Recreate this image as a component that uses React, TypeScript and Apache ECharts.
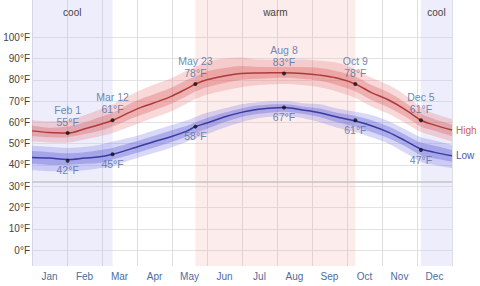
import React, { useEffect, useRef } from "react";
import * as echarts from "echarts";

// x positions are day-of-year (0..365)
const months = ["Jan", "Feb", "Mar", "Apr", "May", "Jun", "Jul", "Aug", "Sep", "Oct", "Nov", "Dec"];
const yTicks = [0, 10, 20, 30, 40, 50, 60, 70, 80, 90, 100];

const days = [0, 15, 31, 46, 59, 70, 90, 105, 120, 135, 142, 152, 167, 182, 197, 219, 235, 250, 265, 281, 295, 310, 325, 338, 350, 365];

const highLine = [56, 55.2, 55, 57, 59, 61, 66, 69, 72, 76, 78, 80, 81.8, 83, 83.2, 83.3, 83, 82.2, 80.8, 78, 74, 70.5, 65.8, 61, 58.7, 56.4];
const highP10 = [51, 50.5, 50.5, 52, 53.5, 55, 59, 62, 65, 69, 71, 73, 75, 76.5, 77.5, 78, 77.5, 76.5, 74.5, 71.5, 67.5, 64, 59.5, 55.5, 53.5, 51];
const highP25 = [53.5, 53, 53, 54.5, 56, 58, 62.5, 65.5, 68.5, 72.5, 74.5, 76.5, 78.5, 80, 80.5, 81, 80.5, 79.5, 77.5, 74.5, 70.5, 67, 62.5, 58, 56, 53.5];
const highP75 = [58.5, 57.5, 58, 60, 62.5, 64.5, 70, 73, 76, 80, 81.5, 84, 85.5, 86.5, 86, 86, 86, 85.5, 84, 81.5, 77.5, 74, 69, 64, 61.5, 59];
const highP90 = [61, 60.5, 61, 63.5, 66, 68.5, 74, 77.5, 80.5, 84.5, 86, 88.5, 90, 90.5, 89.5, 89.5, 89.5, 89, 88, 85, 81, 77.5, 72.5, 67, 64, 61.5];

const lowLine = [43.5, 43.2, 42.5, 43.2, 43.8, 45, 48.2, 50.8, 53.1, 56, 58, 59.7, 62.5, 64.7, 66.2, 67, 65.8, 64.5, 62.5, 60.6, 58.4, 55.3, 51.2, 47.5, 45.9, 44.3];
const lowP10 = [37.5, 37, 37, 37.5, 38.5, 39.5, 43, 45.5, 48, 51, 52.5, 54.5, 57.5, 60, 62, 63, 62, 60, 57.5, 55.5, 53, 50, 45.5, 41.5, 40, 38.5];
const lowP25 = [40.5, 40, 40, 40.5, 41, 42.5, 45.5, 48, 50.5, 53.5, 55, 57, 60, 62.5, 64, 65, 64, 62.5, 60, 58, 55.5, 52.5, 48.5, 44.5, 43, 41.5];
const lowP75 = [46.5, 46, 45.5, 46, 47, 48, 51, 53.5, 56, 58.5, 60, 62, 64.5, 66.5, 68, 68.5, 67.5, 66.5, 64.5, 63, 61, 58, 54, 50.5, 49, 47];
const lowP90 = [49, 48.5, 48, 48.5, 49.5, 51, 53.5, 56, 58.5, 61, 62.5, 64.5, 66.5, 68.5, 69.5, 70, 69, 68.5, 66.5, 65, 63.5, 60.5, 56.5, 53, 51.5, 49.5];

const markerDays = [31, 70, 142, 219, 281, 338];
const markerNames = ["Feb 1", "Mar 12", "May 23", "Aug 8", "Oct 9", "Dec 5"];
const markerHigh = [55, 61, 78, 83, 78, 61];
const markerLow = [42, 45, 58, 67, 61, 47];

const seasons = [
  { name: "cool", from: 0, to: 70, kind: "cool" },
  { name: "warm", from: 142, to: 281, kind: "warm" },
  { name: "cool", from: 338, to: 365, kind: "cool" },
];
const freezing = 32;

const FONT = "Liberation Sans, Arial, sans-serif";

function pairs(vals: number[]) {
  return days.map((d, i) => [d, vals[i]]);
}

// Catmull-Rom -> cubic bezier path through pixel points
function curve(pts: number[][], start: boolean): string {
  let s = start ? `M${pts[0][0]},${pts[0][1]}` : `L${pts[0][0]},${pts[0][1]}`;
  const n = pts.length;
  const t = 6;
  for (let i = 0; i < n - 1; i++) {
    const p0 = pts[Math.max(0, i - 1)];
    const p1 = pts[i];
    const p2 = pts[i + 1];
    const p3 = pts[Math.min(n - 1, i + 2)];
    const c1x = p1[0] + (p2[0] - p0[0]) / t;
    const c1y = p1[1] + (p2[1] - p0[1]) / t;
    const c2x = p2[0] - (p3[0] - p1[0]) / t;
    const c2y = p2[1] - (p3[1] - p1[1]) / t;
    s += `C${c1x},${c1y},${c2x},${c2y},${p2[0]},${p2[1]}`;
  }
  return s;
}

function bandSeries(bottom: number[], top: number[], color: string) {
  return {
    type: "custom",
    xAxisIndex: 1,
    silent: true,
    clip: true,
    data: days.map((d, i) => [d, bottom[i], top[i]]),
    encode: { x: 0, y: [1, 2] },
    renderItem: (params: any, api: any) => {
      if (params.dataIndex !== 0) return null;
      const up = days.map((d, i) => api.coord([d, top[i]]));
      const lo = days.map((d, i) => api.coord([d, bottom[i]])).reverse();
      const pathData = curve(up, true) + curve(lo, false) + "Z";
      return {
        type: "path",
        shape: { pathData, layout: "cover" },
        style: { fill: color },
      };
    },
  };
}

export default function App() {
  const ref = useRef<HTMLDivElement>(null);
  useEffect(() => {
    document.body.style.margin = "0";
    if (!ref.current) return;
    const chart = echarts.init(ref.current, undefined, { renderer: "svg" });
    const gridColors = [
      "rgba(0,0,0,0)",
      ...yTicks.map(() => "#e3e3e3"),
      "rgba(0,0,0,0)",
      "rgba(0,0,0,0)",
    ];
    const option: any = {
      animation: false,
      textStyle: { fontFamily: FONT },
      grid: { left: 32, right: 28, top: 0, bottom: 20, containLabel: false },
      xAxis: [
        {
          type: "category",
          data: months,
          boundaryGap: true,
          axisLine: { show: false },
          axisTick: { show: false },
          axisLabel: { interval: 0, color: "#4f6b9e", fontSize: 10, margin: 5, fontFamily: FONT },
          splitLine: { show: true, interval: 0, lineStyle: { color: "#dedede", width: 1 } },
        },
        { type: "value", min: 0, max: 365, show: false },
      ],
      yAxis: {
        type: "value",
        min: -7.5,
        max: 117.5,
        splitNumber: 12,
        minInterval: 10,
        maxInterval: 10,
        axisLine: { show: false },
        axisTick: { show: false },
        axisLabel: {
          color: "#444",
          fontSize: 10,
          margin: 2,
          fontFamily: FONT,
          formatter: (v: number) => (yTicks.indexOf(v) >= 0 ? `${v}°F` : ""),
        },
        splitLine: { show: true, lineStyle: { color: gridColors, width: 1 } },
      },
      series: [
        {
          type: "line",
          xAxisIndex: 1,
          data: [],
          silent: true,
          markArea: {
            silent: true,
            label: { show: true, position: "insideTop", distance: 7, color: "#444", fontSize: 10, fontFamily: FONT },
            data: seasons.map((s) => [
              {
                name: s.name,
                xAxis: s.from,
                itemStyle: { color: s.kind === "cool" ? "rgba(190,190,245,0.28)" : "rgba(245,170,170,0.22)" },
              },
              { xAxis: s.to },
            ]),
          },
          markLine: {
            silent: true,
            symbol: "none",
            label: { show: false },
            lineStyle: { color: "#c4c4c4", width: 1.5, type: "solid" },
            data: [{ yAxis: freezing }],
          },
        },
        bandSeries(highP10, highP90, "rgba(232,125,125,0.30)"),
        bandSeries(highP25, highP75, "rgba(215,90,90,0.32)"),
        bandSeries(lowP10, lowP90, "rgba(125,125,232,0.30)"),
        bandSeries(lowP25, lowP75, "rgba(90,90,210,0.34)"),
        {
          type: "line",
          xAxisIndex: 1,
          data: pairs(highLine),
          smooth: 0.35,
          symbol: "none",
          lineStyle: { color: "#b03a3a", width: 1.5 },
          endLabel: { show: true, formatter: "High", color: "#d0605c", fontSize: 10, distance: 4, fontFamily: FONT },
        },
        {
          type: "line",
          xAxisIndex: 1,
          data: pairs(lowLine),
          smooth: 0.35,
          symbol: "none",
          lineStyle: { color: "#3a3aa2", width: 1.5 },
          endLabel: { show: true, formatter: "Low", color: "#4a56b4", fontSize: 10, distance: 4, fontFamily: FONT },
        },
        {
          type: "scatter",
          xAxisIndex: 1,
          data: markerDays.map((d, i) => [d, markerHigh[i]]),
          symbolSize: 4,
          itemStyle: { color: "#111" },
          z: 5,
          label: {
            show: true,
            position: "top",
            distance: 3,
            color: "#4a6b9c",
            fontSize: 10.5,
            lineHeight: 12,
            fontFamily: FONT,
            formatter: (p: any) => `${markerNames[p.dataIndex]}\n${markerHigh[p.dataIndex]}°F`,
          },
        },
        {
          type: "scatter",
          xAxisIndex: 1,
          data: markerDays.map((d, i) => [d, markerLow[i]]),
          symbolSize: 4,
          itemStyle: { color: "#111" },
          z: 5,
          label: {
            show: true,
            position: "bottom",
            distance: 2,
            color: "#4a6b9c",
            fontSize: 10.5,
            fontFamily: FONT,
            formatter: (p: any) => `${markerLow[p.dataIndex]}°F`,
          },
        },
      ],
    };
    chart.setOption(option);
    return () => chart.dispose();
  }, []);
  return (
    <div
      ref={ref}
      style={{ position: "fixed", left: 0, top: 0, width: 480, height: 286, background: "#fff" }}
    />
  );
}
